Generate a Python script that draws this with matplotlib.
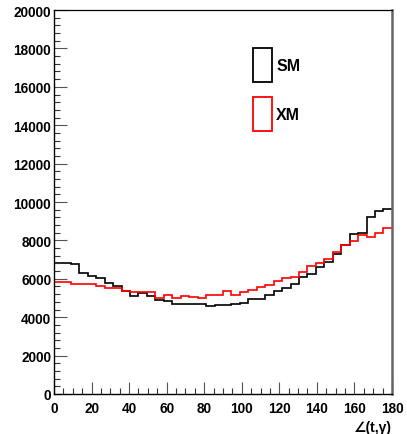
import numpy as np
import matplotlib.pyplot as plt
from matplotlib.patches import Patch

# 40 bins of 4.5 degrees from 0 to 180
edges = np.linspace(0, 180, 41)

sm = [6810, 6800, 6750, 6280, 6160, 6020, 5790, 5620, 5380, 5110,
      5235, 5115, 4885, 4830, 4710, 4700, 4700, 4700, 4570, 4640,
      4660, 4680, 4750, 4940, 4970, 5150, 5360, 5530, 5710, 6100,
      6230, 6600, 6890, 7280, 7770, 8320, 8410, 9200, 9510, 9630]

xm = [5810, 5810, 5710, 5740, 5710, 5620, 5530, 5500, 5360, 5310,
      5290, 5290, 5010, 5150, 5025, 5115, 5060, 5025, 5150, 5150,
      5360, 5180, 5320, 5410, 5550, 5670, 5880, 6020, 6110, 6370,
      6650, 6840, 7030, 7420, 7770, 7990, 8260, 8200, 8380, 8640]

plt.rcParams['font.family'] = ['Liberation Sans', 'DejaVu Sans']
plt.rcParams['font.weight'] = 'bold'

fig = plt.figure(figsize=(4.07, 4.35), dpi=100)
ax = fig.add_axes([0.1327, 0.092, 0.8303, 0.8826])

ax.stairs(sm, edges, baseline=None, color='black', linewidth=1.2)
ax.stairs(xm, edges, baseline=None, color='red', linewidth=1.2)

ax.set_xlim(0, 180)
ax.set_ylim(0, 20000)
ax.set_xticks(np.arange(0, 181, 20))
ax.set_xticks(np.arange(0, 181, 5), minor=True)
ax.set_yticks(np.arange(0, 20001, 2000))
ax.set_yticks(np.arange(0, 20001, 400), minor=True)

ax.tick_params(which='both', direction='in', top=False, right=False,
               labelsize=9.8, width=0.8)
ax.tick_params(axis='x', which='major', pad=5)
ax.tick_params(axis='y', which='major', pad=2)
ax.tick_params(which='major', length=9, color='#555555')
ax.tick_params(which='minor', length=4.5, color='#333333')
for lab in ax.get_xticklabels() + ax.get_yticklabels():
    lab.set_fontweight('bold')

ax.spines['left'].set_linewidth(1.0)
ax.spines['bottom'].set_linewidth(1.0)
ax.spines['top'].set_linewidth(0.9)
ax.spines['right'].set_color('#666666')
ax.spines['right'].set_linewidth(1.8)

ax.set_xlabel('\u2220(t,\u03b3)', loc='right', fontsize=10, fontweight='bold',
              labelpad=4)

handles = [Patch(facecolor='none', edgecolor='black', linewidth=1.3, label='SM'),
           Patch(facecolor='none', edgecolor='red', linewidth=1.3, label='XM')]
ax.legend(handles=handles, loc='upper left', bbox_to_anchor=(0.589, 0.901),
          frameon=False, prop={'weight': 'bold', 'size': 11.5},
          handlelength=1.2, handleheight=2.9, handletextpad=0.25,
          labelspacing=0.95, borderpad=0, borderaxespad=0)

fig.savefig('out.png', dpi=100)
